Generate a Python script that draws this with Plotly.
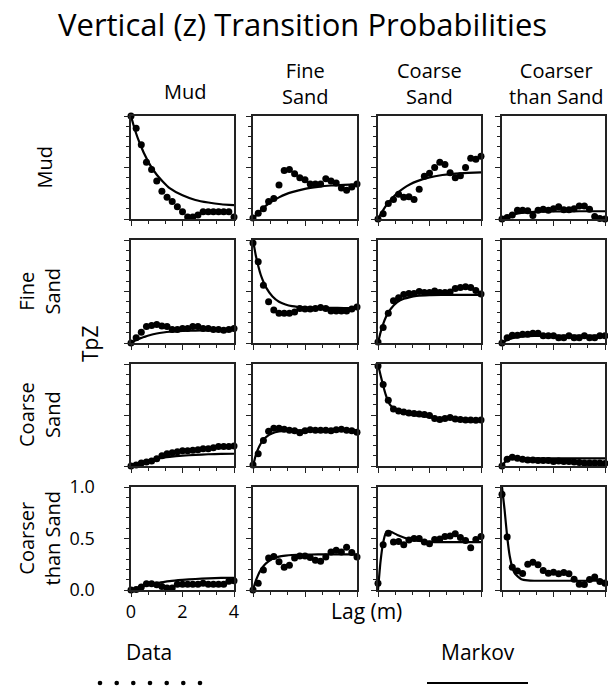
import plotly.graph_objects as go

W, H = 608, 691

# ---------------- data ----------------
facies = ["Mud", "Fine Sand", "Coarse Sand", "Coarser than Sand"]
col_titles = ["Mud", "Fine<br>Sand", "Coarse<br>Sand", "Coarser<br>than Sand"]
row_titles = ["Mud", "Fine<br>Sand", "Coarse<br>Sand", "Coarser<br>than Sand"]

lag_data = [0.0, 0.2, 0.4, 0.6, 0.8, 1.0, 1.2, 1.4, 1.6, 1.8, 2.0,
            2.2, 2.4, 2.6, 2.8, 3.0, 3.2, 3.4, 3.6, 3.8, 4.0]
lag_markov = [0.0, 0.1, 0.2, 0.3, 0.4, 0.5, 0.75, 1.0, 1.25, 1.5,
              2.0, 2.5, 3.0, 3.5, 4.0]

# measured transition probabilities (row = from, col = to)
data_mud_mud = [1.0, 0.88, 0.72, 0.55, 0.48, 0.37, 0.27, 0.21, 0.17, 0.12, 0.07,
                0.02, 0.02, 0.04, 0.07, 0.07, 0.07, 0.07, 0.07, 0.07, 0.02]
data_mud_fine = [0.01, 0.055, 0.10, 0.17, 0.20, 0.33, 0.47, 0.48, 0.44, 0.40, 0.38,
                 0.34, 0.34, 0.34, 0.39, 0.37, 0.35, 0.30, 0.28, 0.31, 0.34]
data_mud_coarse = [0.0, 0.05, 0.15, 0.19, 0.24, 0.21, 0.215, 0.19, 0.29, 0.415, 0.445,
                   0.50, 0.55, 0.53, 0.45, 0.40, 0.42, 0.50, 0.59, 0.58, 0.61]
data_mud_coarser = [0.0, 0.015, 0.04, 0.085, 0.085, 0.08, 0.035, 0.085, 0.095, 0.085, 0.10,
                    0.12, 0.09, 0.09, 0.10, 0.125, 0.125, 0.095, 0.025, 0.005, 0.0]

data_fine_mud = [0.0, 0.05, 0.105, 0.16, 0.17, 0.18, 0.165, 0.16, 0.13, 0.13, 0.14,
                 0.14, 0.16, 0.16, 0.14, 0.14, 0.13, 0.13, 0.125, 0.13, 0.14]
data_fine_fine = [0.97, 0.79, 0.56, 0.40, 0.32, 0.29, 0.29, 0.29, 0.30, 0.335, 0.33,
                  0.33, 0.335, 0.345, 0.335, 0.31, 0.31, 0.31, 0.31, 0.33, 0.35]
data_fine_coarse = [0.01, 0.15, 0.29, 0.41, 0.44, 0.47, 0.48, 0.48, 0.50, 0.49, 0.49,
                    0.505, 0.49, 0.49, 0.495, 0.53, 0.54, 0.545, 0.54, 0.51, 0.475]
data_fine_coarser = [0.0, 0.05, 0.075, 0.075, 0.085, 0.085, 0.095, 0.095, 0.07, 0.07, 0.07,
                     0.05, 0.05, 0.07, 0.05, 0.05, 0.07, 0.05, 0.05, 0.07, 0.07]

data_coarse_mud = [0.0, 0.01, 0.03, 0.04, 0.05, 0.07, 0.10, 0.12, 0.13, 0.14, 0.15,
                   0.15, 0.155, 0.16, 0.17, 0.17, 0.18, 0.19, 0.19, 0.19, 0.195]
data_coarse_fine = [0.01, 0.12, 0.25, 0.34, 0.37, 0.37, 0.36, 0.35, 0.345, 0.325, 0.345,
                    0.355, 0.35, 0.35, 0.35, 0.345, 0.355, 0.36, 0.35, 0.345, 0.33]
data_coarse_coarse = [0.98, 0.80, 0.645, 0.56, 0.54, 0.53, 0.52, 0.515, 0.51, 0.505, 0.495,
                      0.465, 0.455, 0.465, 0.475, 0.46, 0.455, 0.45, 0.45, 0.448, 0.452]
data_coarse_coarser = [0.0, 0.065, 0.085, 0.075, 0.065, 0.06, 0.06, 0.055, 0.055, 0.055, 0.045,
                       0.05, 0.045, 0.045, 0.04, 0.035, 0.03, 0.03, 0.03, 0.03, 0.025]

data_coarser_mud = [0.0, 0.005, 0.03, 0.06, 0.06, 0.05, 0.035, 0.02, 0.02, 0.055, 0.055,
                    0.055, 0.055, 0.055, 0.065, 0.055, 0.055, 0.055, 0.055, 0.085, 0.09]
data_coarser_fine = [0.0, 0.065, 0.195, 0.31, 0.325, 0.275, 0.22, 0.24, 0.31, 0.33, 0.33,
                     0.315, 0.29, 0.28, 0.32, 0.37, 0.385, 0.37, 0.415, 0.365, 0.32]
data_coarser_coarse = [0.065, 0.44, 0.55, 0.465, 0.47, 0.44, 0.485, 0.50, 0.50, 0.465, 0.45,
                       0.49, 0.495, 0.52, 0.525, 0.545, 0.51, 0.48, 0.41, 0.49, 0.52]
data_coarser_coarser = [0.93, 0.515, 0.22, 0.185, 0.16, 0.25, 0.27, 0.245, 0.19, 0.163, 0.172,
                        0.158, 0.17, 0.158, 0.105, 0.056, 0.054, 0.103, 0.127, 0.082, 0.065]

# Markov chain model curves (read at lag_markov)
markov_mud_mud = [1.0, 0.91, 0.83, 0.76, 0.70, 0.64, 0.52, 0.43, 0.36, 0.30,
                  0.23, 0.185, 0.16, 0.143, 0.134]
markov_mud_fine = [0.0, 0.031, 0.059, 0.085, 0.108, 0.13, 0.175, 0.21, 0.239, 0.261,
                   0.293, 0.312, 0.325, 0.332, 0.337]
markov_mud_coarse = [0.0, 0.046, 0.087, 0.125, 0.158, 0.188, 0.251, 0.30, 0.337, 0.365,
                     0.404, 0.427, 0.441, 0.448, 0.453]
markov_mud_coarser = [0.0, 0.013, 0.024, 0.034, 0.042, 0.048, 0.059, 0.065, 0.069, 0.071,
                      0.073, 0.074, 0.075, 0.075, 0.075]

markov_fine_mud = [0.0, 0.015, 0.028, 0.04, 0.05, 0.058, 0.078, 0.092, 0.102, 0.109,
                   0.117, 0.121, 0.123, 0.124, 0.125]
markov_fine_fine = [1.0, 0.86, 0.75, 0.66, 0.595, 0.54, 0.451, 0.40, 0.374, 0.358,
                    0.346, 0.343, 0.341, 0.34, 0.34]
markov_fine_coarse = [0.0, 0.103, 0.184, 0.247, 0.295, 0.333, 0.396, 0.429, 0.446, 0.456,
                      0.464, 0.466, 0.467, 0.467, 0.467]
markov_fine_coarser = [0.0, 0.015, 0.028, 0.038, 0.046, 0.052, 0.062, 0.067, 0.069, 0.07,
                       0.071, 0.071, 0.071, 0.071, 0.071]

markov_coarse_mud = [0.0, 0.010, 0.019, 0.028, 0.035, 0.043, 0.058, 0.071, 0.081, 0.089,
                     0.101, 0.109, 0.115, 0.118, 0.12]
markov_coarse_fine = [0.0, 0.099, 0.170, 0.221, 0.258, 0.284, 0.321, 0.338, 0.345, 0.348,
                      0.35, 0.35, 0.35, 0.35, 0.35]
markov_coarse_coarse = [1.0, 0.89, 0.79, 0.70, 0.63, 0.59, 0.545, 0.52, 0.505, 0.495,
                        0.48, 0.468, 0.46, 0.457, 0.455]
markov_coarse_coarser = [0.0, 0.035, 0.06, 0.075, 0.08, 0.08, 0.078, 0.076, 0.075, 0.075,
                         0.074, 0.074, 0.074, 0.074, 0.074]

markov_coarser_mud = [0.0, 0.009, 0.018, 0.026, 0.033, 0.040, 0.055, 0.067, 0.077, 0.086,
                      0.098, 0.107, 0.113, 0.117, 0.119]
markov_coarser_fine = [0.0, 0.084, 0.147, 0.195, 0.231, 0.259, 0.302, 0.324, 0.334, 0.34,
                       0.344, 0.345, 0.345, 0.345, 0.345]
markov_coarser_coarse = [0.0, 0.28, 0.46, 0.55, 0.57, 0.565, 0.535, 0.51, 0.49, 0.478,
                         0.468, 0.465, 0.465, 0.465, 0.465]
markov_coarser_coarser = [1.0, 0.78, 0.52, 0.33, 0.22, 0.16, 0.105, 0.093, 0.09, 0.09,
                          0.09, 0.09, 0.09, 0.09, 0.09]

data_grid = [
    [data_mud_mud, data_mud_fine, data_mud_coarse, data_mud_coarser],
    [data_fine_mud, data_fine_fine, data_fine_coarse, data_fine_coarser],
    [data_coarse_mud, data_coarse_fine, data_coarse_coarse, data_coarse_coarser],
    [data_coarser_mud, data_coarser_fine, data_coarser_coarse, data_coarser_coarser],
]
markov_grid = [
    [markov_mud_mud, markov_mud_fine, markov_mud_coarse, markov_mud_coarser],
    [markov_fine_mud, markov_fine_fine, markov_fine_coarse, markov_fine_coarser],
    [markov_coarse_mud, markov_coarse_fine, markov_coarse_coarse, markov_coarse_coarser],
    [markov_coarser_mud, markov_coarser_fine, markov_coarser_coarse, markov_coarser_coarser],
]

y_ticks = [0.0, 0.5, 1.0]
y_ticklabels = ["0.0", "0.5", "1.0"]
x_ticks = [0, 2, 4]
x_ticklabels = ["0", "2", "4"]

# ---------------- layout geometry (pixels) ----------------
col_px = [(131, 234), (253, 357), (378, 481), (502, 605)]
row_px = [(116, 219), (240, 343), (364, 466), (487, 590)]


def px(x):
    return x / W


def py(y):
    return 1 - y / H


FONT = "Open Sans"

fig = go.Figure()
layout = {}
for r in range(4):
    for c in range(4):
        k = r * 4 + c + 1
        xa = "x" if k == 1 else f"x{k}"
        ya = "y" if k == 1 else f"y{k}"
        fig.add_trace(go.Scatter(
            x=lag_markov, y=markov_grid[r][c], mode="lines",
            line=dict(color="black", width=2.2, shape="spline", smoothing=0.6),
            xaxis=xa, yaxis=ya, showlegend=False, cliponaxis=False,
            hoverinfo="skip"))
        fig.add_trace(go.Scatter(
            x=lag_data, y=data_grid[r][c], mode="markers",
            marker=dict(color="black", size=7),
            xaxis=xa, yaxis=ya, showlegend=False, cliponaxis=False))
        show = (r == 3 and c == 0)
        common = dict(showline=True, linecolor="#222", linewidth=1.6, mirror=True,
                      showgrid=False, zeroline=False, ticks="outside",
                      tickcolor="#222", tickwidth=1, ticklen=5,
                      showticklabels=show, automargin=False,
                      tickfont=dict(family=FONT, size=18, color="black"))
        layout["xaxis" if k == 1 else f"xaxis{k}"] = dict(
            common, domain=[px(col_px[c][0]), px(col_px[c][1])],
            range=[0, 4], tickmode="array", tickvals=x_ticks, ticktext=x_ticklabels,
            ticklabelstandoff=0,
            minor=dict(ticks="outside", ticklen=3, tickcolor="#222", tickwidth=1,
                       tickmode="linear", tick0=0, dtick=2 / 3),
            anchor=ya)
        layout["yaxis" if k == 1 else f"yaxis{k}"] = dict(
            common, domain=[py(row_px[r][1]), py(row_px[r][0])],
            range=[0, 1], tickmode="array", tickvals=y_ticks, ticktext=y_ticklabels,
            ticklabelstandoff=26,
            minor=dict(ticks="outside", ticklen=3, tickcolor="#222", tickwidth=1,
                       tickmode="linear", tick0=0, dtick=0.1),
            anchor=xa)


def label(text, x, y, size, angle=0):
    return dict(text=text, x=px(x), y=py(y), xref="paper", yref="paper",
                xanchor="center", yanchor="middle", showarrow=False,
                textangle=angle, font=dict(family=FONT, size=size, color="black"))


ann = [label("Vertical (z) Transition Probabilities", 302, 24, 31)]
header_x = [185, 305, 429, 556]
header_y = [92, 84, 84, 84]
for c in range(4):
    ann.append(label(col_titles[c], header_x[c], header_y[c], 20))
row_label_x = [44, 39, 39, 39]
for r in range(4):
    ann.append(label(row_titles[r], row_label_x[r],
                     (row_px[r][0] + row_px[r][1]) / 2, 20, -90))
ann.append(label("TpZ", 90, 344, 21, -90))
ann.append(label("Lag (m)", 367, 611, 21))
ann.append(label("Data", 149, 652, 21))
ann.append(label("Markov", 478, 652, 21))

shapes = []
legend_dot_x = [100, 116.7, 133.3, 150, 166.7, 183.3, 200]
for dx in legend_dot_x:
    shapes.append(dict(type="circle", xref="paper", yref="paper",
                       x0=px(dx - 2.3), x1=px(dx + 2.3), y0=py(683 + 2.3), y1=py(683 - 2.3),
                       fillcolor="black", line=dict(width=0)))
shapes.append(dict(type="line", xref="paper", yref="paper",
                   x0=px(427), x1=px(528), y0=py(683), y1=py(683),
                   line=dict(color="black", width=2)))

fig.update_layout(width=W, height=H, margin=dict(l=0, r=0, t=0, b=0, pad=0),
                  autosize=False, hovermode=False,
                  paper_bgcolor="white", plot_bgcolor="white",
                  annotations=ann, shapes=shapes, showlegend=False, **layout)

fig.write_html("out.html", config={"displayModeBar": False, "staticPlot": True},
               post_script="document.body.style.margin='0';document.body.style.padding='0';")
